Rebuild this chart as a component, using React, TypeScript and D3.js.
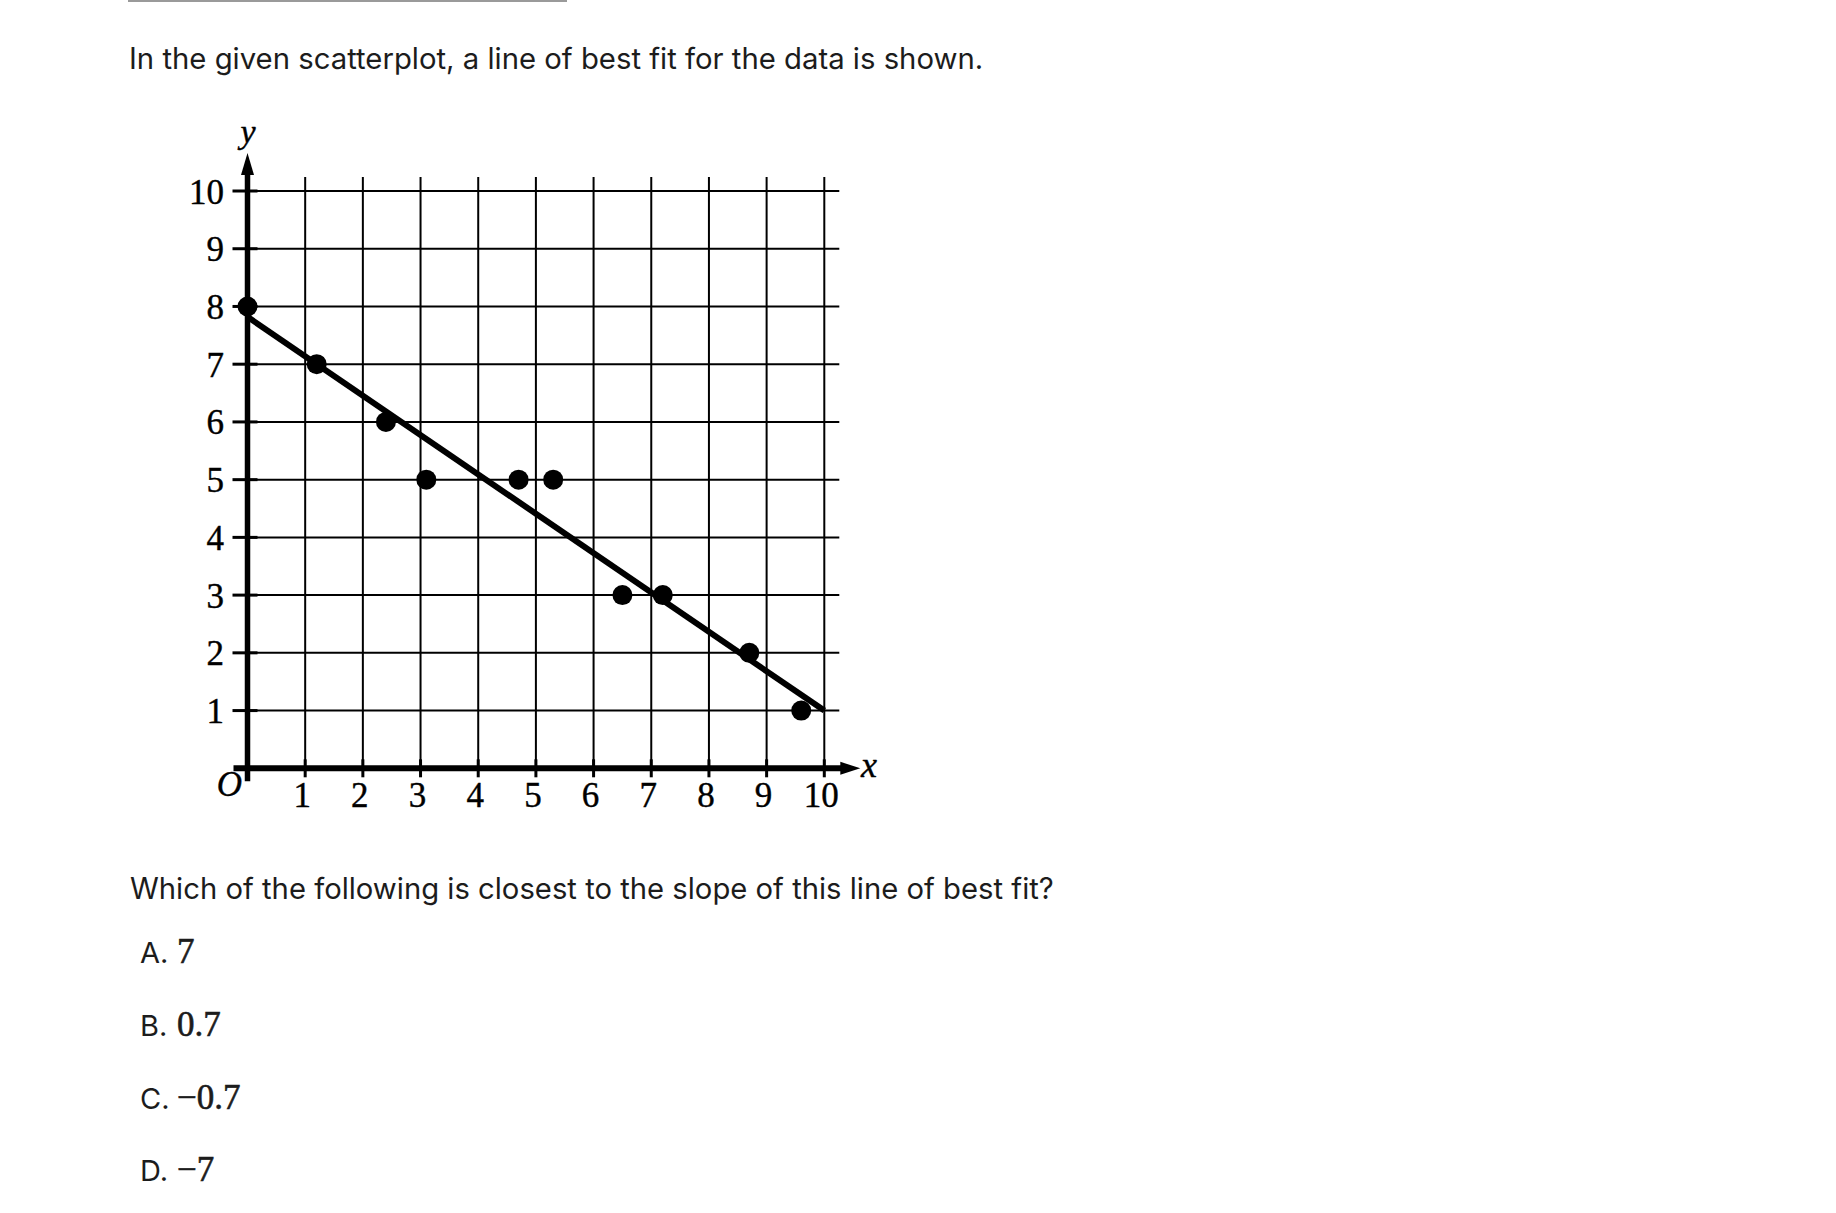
import React from "react";
import * as d3 from "d3";

const introText = "In the given scatterplot, a line of best fit for the data is shown.";
const questionText = "Which of the following is closest to the slope of this line of best fit?";
const optionLetters = ["A.", "B.", "C.", "D."];
const optionValues = ["7", "0.7", "\u22120.7", "\u22127"];

const xTicks = [1, 2, 3, 4, 5, 6, 7, 8, 9, 10];
const yTicks = [1, 2, 3, 4, 5, 6, 7, 8, 9, 10];
const pointX = [0, 1.2, 2.4, 3.1, 4.7, 5.3, 6.5, 7.2, 8.7, 9.6];
const pointY = [8, 7, 6, 5, 5, 5, 3, 3, 2, 1];
const fitX = [0, 10];
const fitY = [7.82, 1];

const W = 1836;
const H = 1213;
const SANS = "Inter, 'Noto Sans', 'Liberation Sans', sans-serif";
const SERIF = "'Liberation Serif', 'DejaVu Serif', serif";
const INK = "#1c1c1c";

export default function App() {
  const x = d3.scaleLinear().domain([0, 10]).range([247.5, 824.3]);
  const y = d3.scaleLinear().domain([0, 10]).range([768.3, 191]);

  const gridTop = y(10) - 14;
  const gridRight = x(10) + 15;
  const axisLeft = x(0) - 14;
  const axisBottom = y(0) + 13;
  const xArrowTip = x(10) + 36;
  const yArrowTip = y(10) - 38;

  const fitLine = d3
    .line<number>()
    .x((_, i) => x(fitX[i]))
    .y((_, i) => y(fitY[i]))(fitX);

  const optionBaselines = [963, 1036, 1108.5, 1181];

  return (
    <svg
      width={W}
      height={H}
      viewBox={`0 0 ${W} ${H}`}
      style={{ position: "absolute", left: 0, top: 0, background: "#fff" }}
    >
      <rect x={0} y={0} width={W} height={H} fill="#fff" />
      <line x1={128} x2={567} y1={1} y2={1} stroke="#9a9a9a" strokeWidth={2} />
      <text x={129} y={69.3} style={{ fontFamily: SANS, fontSize: 29.3 }} fill={INK}>
        {introText}
      </text>

      {/* grid */}
      <g stroke="#000" strokeWidth={2}>
        {xTicks.map((t) => (
          <line key={"gx" + t} x1={x(t)} x2={x(t)} y1={gridTop} y2={y(0)} />
        ))}
        {yTicks.map((t) => (
          <line key={"gy" + t} x1={x(0)} x2={gridRight} y1={y(t)} y2={y(t)} />
        ))}
      </g>
      {/* tick marks */}
      <g stroke="#000" strokeWidth={3}>
        {xTicks.map((t) => (
          <line key={"tx" + t} x1={x(t)} x2={x(t)} y1={y(0) - 9} y2={y(0) + 9} />
        ))}
        {yTicks.map((t) => (
          <line key={"ty" + t} x1={x(0) - 15} x2={x(0) + 10} y1={y(t)} y2={y(t)} />
        ))}
      </g>

      {/* axes */}
      <line x1={axisLeft} x2={xArrowTip - 16} y1={y(0)} y2={y(0)} stroke="#000" strokeWidth={6} />
      <path
        d={`M${xArrowTip},${y(0)} L${xArrowTip - 20},${y(0) - 6.5} L${xArrowTip - 20},${y(0) + 6.5} Z`}
        fill="#000"
      />
      <line x1={x(0)} x2={x(0)} y1={axisBottom} y2={yArrowTip + 16} stroke="#000" strokeWidth={5.5} />
      <path
        d={`M${x(0)},${yArrowTip} L${x(0) - 6.5},${yArrowTip + 22} L${x(0) + 6.5},${yArrowTip + 22} Z`}
        fill="#000"
      />

      {/* tick labels */}
      <g style={{ fontFamily: SERIF, fontSize: 35 }} fill="#000" stroke="#000" strokeWidth={0.4}>
        {yTicks.map((t) => (
          <text key={"ly" + t} x={224} y={y(t) + 12.5} textAnchor="end">
            {t}
          </text>
        ))}
        {xTicks.map((t) => (
          <text key={"lx" + t} x={x(t) - 3} y={806.5} textAnchor="middle">
            {t}
          </text>
        ))}
        <text x={242} y={796} textAnchor="end" fontStyle="italic">
          O
        </text>
        <text x={248} y={143} textAnchor="middle" fontStyle="italic" style={{ fontSize: 34 }}>
          y
        </text>
        <text x={861} y={776.5} textAnchor="start" fontStyle="italic" style={{ fontSize: 36 }}>
          x
        </text>
      </g>

      {/* line of best fit */}
      <path d={fitLine || ""} fill="none" stroke="#000" strokeWidth={6} />

      {/* points */}
      {pointX.map((px, i) => (
        <circle key={"p" + i} cx={x(px)} cy={y(pointY[i])} r={10} fill="#000" />
      ))}

      <text x={130} y={899} style={{ fontFamily: SANS, fontSize: 29.25 }} fill={INK}>
        {questionText}
      </text>

      <g style={{ fontFamily: SANS, fontSize: 29 }} fill={INK}>
        {optionLetters.map((l, i) => (
          <text key={"ol" + i} x={140} y={optionBaselines[i]}>
            {l}
          </text>
        ))}
      </g>
      <g style={{ fontFamily: SERIF, fontSize: 35 }} fill={INK} stroke={INK} strokeWidth={0.6}>
        {optionValues.map((v, i) => (
          <text key={"ov" + i} x={177} y={optionBaselines[i]}>
            {v}
          </text>
        ))}
      </g>
    </svg>
  );
}
